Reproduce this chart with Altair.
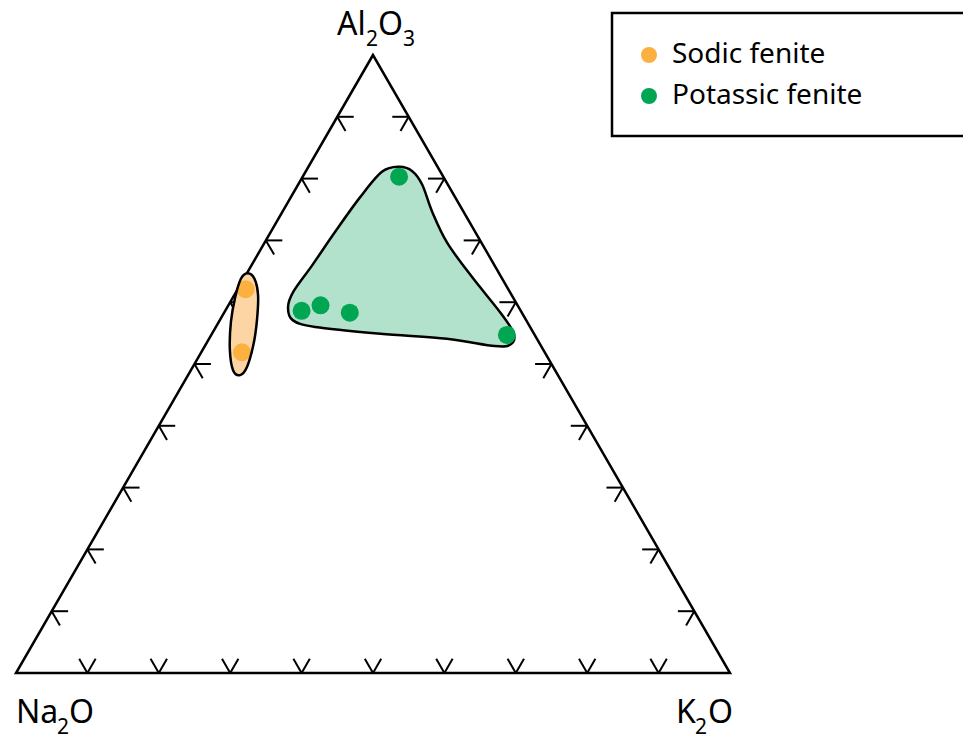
import math
import altair as alt
import pandas as pd

H = math.sqrt(3) / 2

# --- sample compositions (Al2O3, K2O, Na2O; normalised to 100) ---
groups = ["Sodic fenite", "Sodic fenite",
          "Potassic fenite", "Potassic fenite", "Potassic fenite",
          "Potassic fenite", "Potassic fenite"]
al2o3 = [62.1, 51.9, 80.3, 58.6, 59.5, 58.3, 54.7]
k2o = [1.1, 5.7, 13.5, 10.7, 12.9, 17.6, 41.4]
na2o = [36.8, 42.4, 6.2, 30.7, 27.6, 24.1, 3.9]

# --- field envelopes (ternary Al2O3 / K2O, %) ---
green_env_al = [81.9, 81.2, 79.0, 74.6, 69.6, 64.1, 58.3, 55.0, 53.2, 52.9,
                54.1, 54.9, 56.0, 57.1, 59.2, 61.7, 66.0, 71.4, 77.0, 81.1]
green_env_k = [12.7, 14.9, 17.4, 21.0, 25.6, 31.8, 38.7, 42.2, 42.7, 40.6,
               33.3, 23.6, 13.9, 10.2, 8.5, 8.0, 8.5, 9.0, 9.7, 10.7]
orange_env_al = [64.7, 63.8, 61.2, 57.1, 53.1, 49.5, 48.2, 49.0, 52.3, 56.8, 60.8, 63.8]
orange_env_k = [0.1, 1.5, 3.3, 5.2, 6.7, 7.6, 7.3, 5.9, 3.8, 1.7, 0.3, -0.4]

tick_fracs = [0.1, 0.2, 0.3, 0.4, 0.5, 0.6, 0.7, 0.8, 0.9]
categories = ["Sodic fenite", "Potassic fenite"]
colors = ["#fbb040", "#00a651"]

# vertex labels, split into normal text and subscripts
vertex_parts = [
    ["Al", "2", "O", "3"],   # Al2O3 (top)
    ["Na", "2", "O"],        # Na2O (bottom left)
    ["K", "2", "O"],         # K2O (bottom right)
]
vertex_sub = [[False, True, False, True], [False, True, False], [False, True, False]]
vertex_pos = [(100, 0), (0, 0), (0, 100)]          # (Al2O3, K2O) of each apex
# layout offsets (px) for each piece relative to its apex
vertex_dx = [[-36, -7, 5, 30], [0, 41, 53], [-54, -35, -22]]
vertex_dy_main = [-20, 50, 50]
SUB_DROP = 11

FONT = "Noto Sans"


def tx(a, k):
    return k / 100 + a / 200


def ty(a):
    return a / 100 * H


xs = alt.Scale(domain=[0, 1], nice=False, zero=False)
ys = alt.Scale(domain=[0, H], nice=False, zero=False)


def X(f="x"):
    return alt.X(f"{f}:Q", scale=xs, axis=None)


def Y(f="y"):
    return alt.Y(f"{f}:Q", scale=ys, axis=None)


pts = pd.DataFrame({
    "group": groups, "Al2O3": al2o3, "K2O": k2o, "Na2O": na2o,
    "x": [tx(a, k) for a, k in zip(al2o3, k2o)],
    "y": [ty(a) for a in al2o3],
})

green = pd.DataFrame({
    "i": range(len(green_env_al)),
    "x": [tx(a, k) for a, k in zip(green_env_al, green_env_k)],
    "y": [ty(a) for a in green_env_al],
})
orange = pd.DataFrame({
    "i": range(len(orange_env_al)),
    "x": [tx(a, k) for a, k in zip(orange_env_al, orange_env_k)],
    "y": [ty(a) for a in orange_env_al],
})

tri = pd.DataFrame({"i": [0, 1, 2],
                    "x": [tx(100, 0), tx(0, 0), tx(0, 100)],
                    "y": [ty(100), ty(0), ty(0)]})

d = 2.3
rows = []
for t in tick_fracs:
    p = t * 100
    for a2, k2 in [(p, d), (p - d, d)]:                     # left edge
        rows.append((tx(p, 0), ty(p), tx(a2, k2), ty(a2)))
    for a2, k2 in [(p, 100 - p - d), (p - d, 100 - p)]:     # right edge
        rows.append((tx(p, 100 - p), ty(p), tx(a2, k2), ty(a2)))
    for a2, k2 in [(d, p - d), (d, p)]:                     # bottom edge
        rows.append((tx(0, p), ty(0), tx(a2, k2), ty(a2)))
ticks = pd.DataFrame(rows, columns=["x", "y", "x2", "y2"])

base_order = alt.Order("i:Q")

tri_layer = alt.Chart(tri).mark_line(
    interpolate="linear-closed", color="black", strokeWidth=2.5, strokeJoin="miter"
).encode(x=X(), y=Y(), order=base_order)

tick_layer = alt.Chart(ticks).mark_rule(color="black", strokeWidth=2).encode(
    x=X(), y=Y(), x2="x2:Q", y2="y2:Q")

green_env = alt.Chart(green).mark_line(
    interpolate="cardinal-closed", fill="#b2e2cb", stroke="black", strokeWidth=2.5
).encode(x=X(), y=Y(), order=base_order)

orange_fill = alt.Chart(orange).mark_line(
    interpolate="cardinal-closed", fill="#fdd5a5", strokeOpacity=0
).encode(x=X(), y=Y(), order=base_order)

orange_line = alt.Chart(orange).mark_line(
    interpolate="cardinal-closed", stroke="black", strokeWidth=2.5
).encode(x=X(), y=Y(), order=base_order)

points = alt.Chart(pts).mark_circle(size=324, opacity=1).encode(
    x=X(), y=Y(),
    color=alt.Color("group:N", scale=alt.Scale(domain=categories, range=colors),
                    legend=alt.Legend(title=None, orient="none", legendX=619, legendY=-14,
                                      symbolSize=256, symbolType="circle",
                                      labelFontSize=28, labelFont=FONT, labelColor="black",
                                      labelOffset=9, labelLimit=400, rowPadding=13,
                                      padding=0)),
    tooltip=["group", "Al2O3", "K2O", "Na2O"],
)

label_layers = []
for parts, subs, (va, vk), dxs, dym in zip(vertex_parts, vertex_sub, vertex_pos,
                                             vertex_dx, vertex_dy_main):
    for txt, is_sub, dx in zip(parts, subs, dxs):
        df = pd.DataFrame({"t": [txt], "x": [tx(va, vk)], "y": [ty(va)]})
        label_layers.append(
            alt.Chart(df).mark_text(
                font=FONT, fontSize=21 if is_sub else 32, align="left",
                baseline="alphabetic", dx=dx, dy=dym + (SUB_DROP if is_sub else 0),
                color="black"
            ).encode(x=X(), y=Y(), text="t:N")
        )

frame = alt.Chart(pd.DataFrame({"k": [0]})).mark_rect(
    fill="white", stroke="black", strokeWidth=2.5
).encode(x=alt.value(596), x2=alt.value(1000), y=alt.value(-42), y2=alt.value(81))

chart = alt.layer(
    frame, tri_layer, tick_layer, green_env, orange_fill, points, orange_line,
    *label_layers
).properties(
    width=714, height=618,
    autosize=alt.AutoSizeParams(type="none"),
    padding={"left": 8, "top": 47, "right": 233, "bottom": 72},
).configure_view(stroke=None)

chart.save("out.html", embed_options={"renderer": "svg", "actions": False})
